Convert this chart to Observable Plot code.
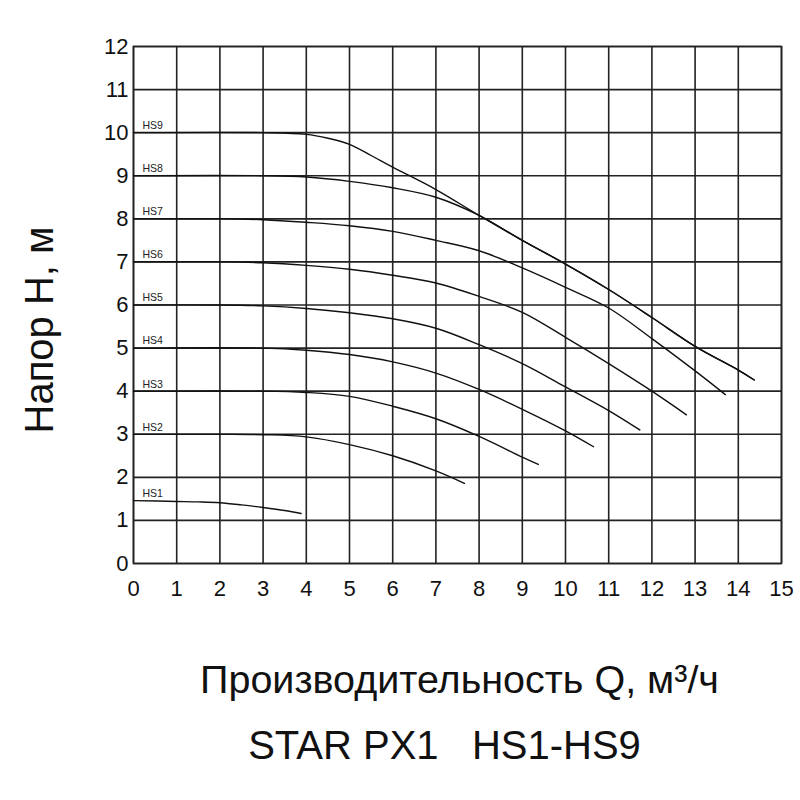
<!DOCTYPE html>
<html>
<head>
<meta charset="utf-8">
<script src="https://cdn.jsdelivr.net/npm/d3@7"></script>
<script src="https://cdn.jsdelivr.net/npm/@observablehq/plot@0.6"></script>
<style>
  html, body { margin: 0; padding: 0; background: #fff; }
  #chart { width: 800px; height: 800px; }
  svg text { font-family: "Liberation Sans", Arial, sans-serif; }
</style>
</head>
<body>
<div id="chart"></div>
<script>
// Flow Q (m³/h) and head H (m) points, per speed setting
const seriesNames = ["HS1","HS2","HS3","HS4","HS5","HS6","HS7","HS8","HS9"];
const hs1Q = [0, 1, 1.5, 2, 2.5, 3, 3.5, 3.88];
const hs1H = [1.46, 1.44, 1.43, 1.41, 1.36, 1.30, 1.23, 1.16];
const hs2Q = [0, 2, 3, 4, 5, 6, 7, 7.66];
const hs2H = [3.0, 3.0, 2.99, 2.94, 2.76, 2.5, 2.15, 1.86];
const hs3Q = [0, 3, 4, 5, 6, 7, 8, 9, 9.37];
const hs3H = [4.0, 4.0, 3.97, 3.88, 3.65, 3.36, 2.95, 2.47, 2.30];
const hs4Q = [0, 3, 4, 5, 6, 7, 8, 9, 10, 10.65];
const hs4H = [5.0, 5.0, 4.95, 4.85, 4.68, 4.42, 4.04, 3.58, 3.08, 2.71];
const hs5Q = [0, 2, 3, 4, 5, 6, 7, 8, 9, 10, 11, 11.72];
const hs5H = [6.0, 6.0, 5.98, 5.92, 5.82, 5.68, 5.46, 5.08, 4.64, 4.10, 3.55, 3.10];
const hs6Q = [0, 2, 3, 4, 5, 6, 7, 8, 9, 10, 11, 12, 12.8];
const hs6H = [7.0, 7.0, 6.98, 6.92, 6.83, 6.69, 6.51, 6.20, 5.83, 5.25, 4.64, 4.0, 3.45];
const hs7Q = [0, 2, 3, 4, 5, 6, 7, 8, 9, 10, 11, 12, 13, 13.7];
const hs7H = [8.0, 8.0, 7.98, 7.92, 7.84, 7.71, 7.50, 7.26, 6.86, 6.41, 5.93, 5.22, 4.47, 3.92];
const hs8Q = [0, 3, 4, 5, 6, 7, 8, 9, 10, 11, 12, 13, 14, 14.37];
const hs8H = [9.0, 9.0, 8.97, 8.87, 8.72, 8.50, 8.08, 7.50, 6.95, 6.36, 5.71, 5.04, 4.49, 4.26];
const hs9Q = [0, 3, 4, 4.5, 5, 5.5, 6, 7, 8, 9, 10, 11, 12, 13, 14, 14.37];
const hs9H = [10.0, 10.0, 9.96, 9.87, 9.73, 9.47, 9.2, 8.68, 8.08, 7.50, 6.95, 6.36, 5.71, 5.04, 4.49, 4.26];

const xTicks = [0,1,2,3,4,5,6,7,8,9,10,11,12,13,14,15];
const yTicks = [0,1,2,3,4,5,6,7,8,9,10,11,12];
const xTitle = "Производительность Q, м³/ч";
const yTitle = "Напор H, м";
const caption = "STAR PX1\u00a0\u00a0\u00a0HS1-HS9";

const allQ = [hs1Q, hs2Q, hs3Q, hs4Q, hs5Q, hs6Q, hs7Q, hs8Q, hs9Q];
const allH = [hs1H, hs2H, hs3H, hs4H, hs5H, hs6H, hs7H, hs8H, hs9H];
const rows = [];
seriesNames.forEach((s, i) => allQ[i].forEach((q, j) => rows.push({series: s, q, h: allH[i][j]})));
const firsts = seriesNames.map((s, i) => ({series: s, q: allQ[i][0], h: allH[i][0]}));

const chart = Plot.plot({
  width: 800,
  height: 800,
  marginLeft: 133,
  marginRight: 19,
  marginTop: 46,
  marginBottom: 237,
  style: {background: "#fff", color: "#111"},
  x: {domain: [0, 15]},
  y: {domain: [0, 12]},
  marks: [
    Plot.gridX(xTicks, {stroke: "#222", strokeOpacity: 1, strokeWidth: 1.6}),
    Plot.gridY(yTicks, {stroke: "#222", strokeOpacity: 1, strokeWidth: 1.6}),
    Plot.frame({stroke: "#222", strokeWidth: 1.6}),
    Plot.axisX(xTicks, {tickSize: 0, tickPadding: 17, fontSize: 22, label: null, tickFormat: d => String(d)}),
    Plot.axisY(yTicks, {tickSize: 0, tickPadding: 5, fontSize: 22, label: null, tickFormat: d => String(d)}),
    Plot.line(rows, {x: "q", y: "h", z: "series", curve: "catmull-rom", stroke: "#111", strokeWidth: 1.4}),
    Plot.text(firsts, {x: "q", y: "h", text: "series", dx: 9, dy: -7, textAnchor: "start", fontSize: 10.5, fill: "#222"}),
    Plot.text([xTitle], {frameAnchor: "bottom", textAnchor: "middle", lineAnchor: "middle", dx: 2, dy: 117, fontSize: 39.5, fill: "#111"}),
    Plot.text([caption], {frameAnchor: "bottom", textAnchor: "middle", lineAnchor: "middle", dx: -13, dy: 183, fontSize: 40, fill: "#111"}),
    Plot.text([yTitle], {frameAnchor: "left", textAnchor: "middle", lineAnchor: "middle", dx: -93, dy: 25, rotate: -90, fontSize: 40, fill: "#111"})
  ]
});
document.getElementById("chart").appendChild(chart);
</script>
</body>
</html>
